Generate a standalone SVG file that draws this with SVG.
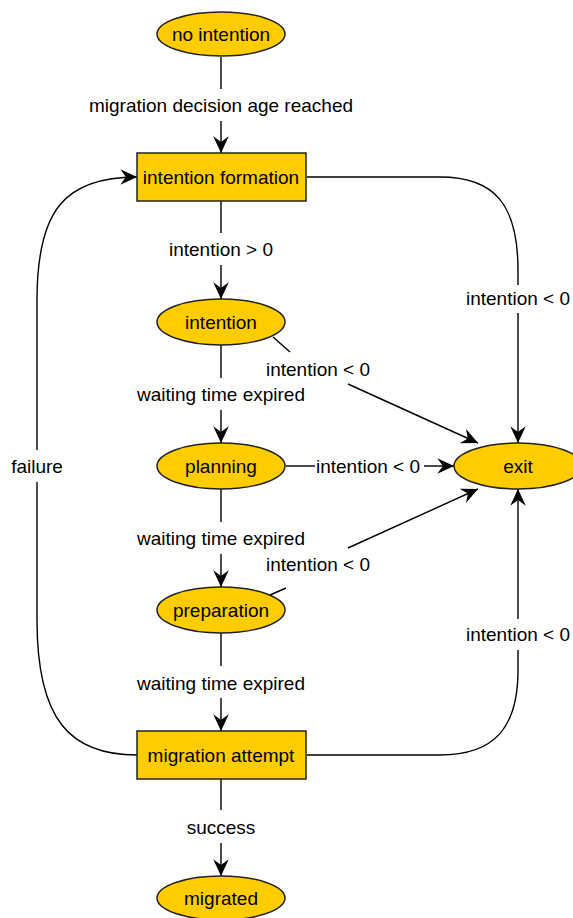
<svg xmlns="http://www.w3.org/2000/svg" width="573" height="918" viewBox="0 0 573 918">
<style>
.n{fill:#FFCC00;stroke:#222;stroke-width:1.5}
.t{font-family:"Liberation Sans",Arial,sans-serif;font-size:19px;fill:#000;text-anchor:middle}
.e{fill:none;stroke:#000;stroke-width:1.4}
</style>
<defs>
<marker id="ah" markerUnits="userSpaceOnUse" markerWidth="20" markerHeight="20" viewBox="-16 -8 18 16" refX="0" refY="0" orient="auto">
<path d="M0,0 L-15,-7 L-10,0 L-15,7 Z" fill="#000"/>
</marker>
</defs>
<rect width="573" height="918" fill="#fff"/>
<g id="edges">
<path class="e" d="M221,57 L221,89"/>
<path class="e" d="M221,121 L221,153" marker-end="url(#ah)"/>
<path class="e" d="M221,201 L221,233"/>
<path class="e" d="M221,265 L221,299" marker-end="url(#ah)"/>
<path class="e" d="M221,345 L221,378"/>
<path class="e" d="M221,410 L221,443" marker-end="url(#ah)"/>
<path class="e" d="M221,489 L221,522"/>
<path class="e" d="M221,554 L221,587" marker-end="url(#ah)"/>
<path class="e" d="M221,633 L221,666"/>
<path class="e" d="M221,698 L221,731" marker-end="url(#ah)"/>
<path class="e" d="M221,779 L221,810"/>
<path class="e" d="M221,843 L221,876" marker-end="url(#ah)"/>
<path class="e" d="M307,177 L440,177 C495,177 518,205 518,270 L518,285"/>
<path class="e" d="M518,313 L518,443" marker-end="url(#ah)"/>
<path class="e" d="M307,755 L440,755 C495,755 518,727 518,670 L518,650"/>
<path class="e" d="M518,619 L518,489" marker-end="url(#ah)"/>
<path class="e" d="M137,755 C70,755 37,720 37,620 L37,482"/>
<path class="e" d="M37,450 L37,300 C37,210 65,177 137,177" marker-end="url(#ah)"/>
<path class="e" d="M273,337 L290,352"/>
<path class="e" d="M348,384 L478,443" marker-end="url(#ah)"/>
<path class="e" d="M286,466 L315,466"/>
<path class="e" d="M424,466 L454,466" marker-end="url(#ah)"/>
<path class="e" d="M270,595 L286,588"/>
<path class="e" d="M348,548 L478,489" marker-end="url(#ah)"/>
<text class="t" x="221" y="112">migration decision age reached</text>
<text class="t" x="221" y="256">intention &gt; 0</text>
<text class="t" x="221" y="401">waiting time expired</text>
<text class="t" x="221" y="545">waiting time expired</text>
<text class="t" x="221" y="690">waiting time expired</text>
<text class="t" x="221" y="834">success</text>
<text class="t" x="518" y="305">intention &lt; 0</text>
<text class="t" x="518" y="641">intention &lt; 0</text>
<text class="t" x="37" y="473">failure</text>
<text class="t" x="318" y="376">intention &lt; 0</text>
<text class="t" x="368" y="473">intention &lt; 0</text>
<text class="t" x="318" y="571">intention &lt; 0</text>
</g>
<g id="no_intention"><ellipse class="n" cx="221" cy="34" rx="64" ry="22"/><text class="t" x="221" y="41">no intention</text></g>
<g id="intention_formation"><rect class="n" x="137" y="153" width="169" height="48"/><text class="t" x="221" y="184">intention formation</text></g>
<g id="intention"><ellipse class="n" cx="221" cy="322" rx="64" ry="23"/><text class="t" x="221" y="329">intention</text></g>
<g id="planning"><ellipse class="n" cx="221" cy="466" rx="64" ry="23"/><text class="t" x="221" y="473">planning</text></g>
<g id="preparation"><ellipse class="n" cx="221" cy="610" rx="64" ry="23"/><text class="t" x="221" y="617">preparation</text></g>
<g id="migration_attempt"><rect class="n" x="137" y="731" width="169" height="48"/><text class="t" x="221" y="762">migration attempt</text></g>
<g id="migrated"><ellipse class="n" cx="221" cy="898" rx="64" ry="22"/><text class="t" x="221" y="905">migrated</text></g>
<g id="exit"><ellipse class="n" cx="518" cy="466" rx="64" ry="23"/><text class="t" x="518" y="473">exit</text></g>
</svg>
